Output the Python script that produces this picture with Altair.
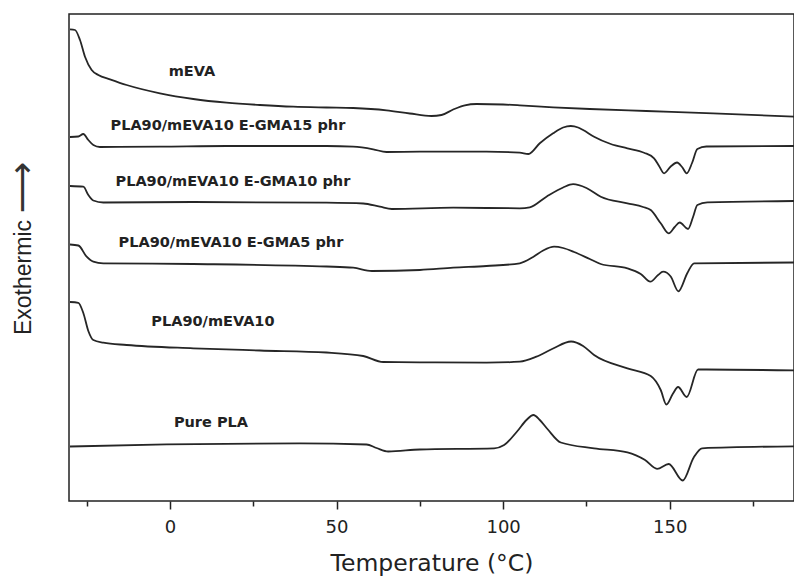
import altair as alt
import pandas as pd

# DSC heating scans; heat flow in arbitrary units, curves offset vertically
meva_T = [-30, -28.5, -27, -25.5, -23.5, -21.5, -18, -13, -3, 7, 17, 27, 37, 47, 55,
          65, 72, 78.5, 81.5, 85, 88.5, 92, 100, 105, 115, 126, 143, 163, 188]
meva_hf = [47.17, 47.10, 46.10, 44.43, 43.10, 42.60, 42.17, 41.60, 40.77, 40.20, 39.83,
           39.60, 39.43, 39.35, 39.30, 39.07, 38.75, 38.50, 38.60, 39.15, 39.57, 39.70,
           39.65, 39.57, 39.37, 39.20, 39.00, 38.77, 38.43]

gma15_T = [-30, -27.5, -26, -24.5, -23, -21, -3, 17, 47, 55, 61, 65, 75, 95, 105, 107.6,
           111, 115, 118, 120.3, 122.5, 124, 127.3, 132.3, 137.3, 142.3, 145.3, 146.8,
           148.3, 150.3, 152.2, 153.7, 155.1, 156.7, 158.3, 161, 188]
gma15_hf = [36.40, 36.45, 36.70, 36.10, 35.60, 35.40, 35.43, 35.50, 35.50, 35.43, 35.17,
            34.90, 34.93, 34.93, 34.83, 34.70, 35.77, 36.77, 37.35, 37.50, 37.35, 37.10,
            36.43, 35.70, 35.27, 34.83, 34.27, 33.50, 32.77, 33.45, 33.85, 33.40, 32.77,
            33.80, 35.20, 35.45, 35.50]

gma10_T = [-30, -26, -24.5, -23, -20, 7, 47, 58, 63, 66.6, 85, 105, 108, 113, 118, 121,
           125, 129.3, 137.3, 142, 144.3, 147.3, 149.7, 151.5, 153, 155.5, 157, 158.3,
           161.3, 188]
gma10_hf = [31.50, 31.43, 30.60, 30.05, 29.85, 29.90, 29.83, 29.75, 29.43, 29.20, 29.33,
            29.27, 29.37, 30.43, 31.35, 31.68, 31.30, 30.43, 29.77, 29.40, 29.10, 27.77,
            26.77, 27.40, 27.85, 27.20, 28.40, 29.60, 29.87, 30.00]

gma5_T = [-30, -27.5, -25, -23, -20, 7, 47, 55, 60.6, 75, 85, 95, 105, 109, 112, 115.3,
          118, 121.3, 126, 129.3, 137.3, 141.3, 144.2, 146.5, 148, 150.3, 152.6, 155.3,
          157.3, 188]
gma5_hf = [25.65, 25.55, 24.43, 23.93, 23.77, 23.70, 23.45, 23.33, 23.00, 23.10, 23.33,
           23.50, 23.77, 24.40, 25.05, 25.43, 25.30, 24.90, 24.20, 23.70, 23.27, 22.70,
           21.93, 22.60, 22.93, 22.45, 20.97, 22.80, 23.77, 23.85]

blend_T = [-30, -27.5, -26, -24.5, -23, -20, -13, 7, 27, 47, 58, 64, 75, 95, 105, 110,
           115, 120.4, 124, 127.3, 137.3, 144.3, 147.3, 149, 150.9, 152.5, 155.1, 158.5,
           161, 188]
blend_hf = [19.90, 19.82, 18.80, 17.00, 16.10, 15.83, 15.60, 15.27, 15.05, 14.85, 14.50,
            13.90, 13.87, 13.83, 13.93, 14.43, 15.25, 15.95, 15.50, 14.60, 13.27, 12.50,
            11.10, 9.65, 10.70, 11.40, 10.40, 13.15, 13.15, 13.05]

pla_T = [-30, -1, 39, 59, 62, 65.5, 75, 97.3, 100.3, 104.3, 107, 109.1, 111, 113.3, 117.3,
         127.3, 137.3, 142.6, 146.2, 149.7, 153.9, 157.2, 159.7, 188]
pla_hf = [5.45, 5.67, 5.77, 5.65, 5.30, 4.95, 5.15, 5.27, 5.60, 7.00, 8.10, 8.60, 8.10,
          7.20, 5.85, 5.27, 4.87, 4.10, 3.22, 3.70, 2.05, 4.35, 5.27, 5.47]

samples = ["mEVA", "PLA90/mEVA10 E-GMA15 phr", "PLA90/mEVA10 E-GMA10 phr",
           "PLA90/mEVA10 E-GMA5 phr", "PLA90/mEVA10", "Pure PLA"]
series_T = [meva_T, gma15_T, gma10_T, gma5_T, blend_T, pla_T]
series_hf = [meva_hf, gma15_hf, gma10_hf, gma5_hf, blend_hf, pla_hf]

# label anchor for each curve (temperature, heat flow)
label_T = [6.6, 17.4, 18.9, 18.3, 12.9, 12.3]
label_hf = [42.9, 37.5, 31.93, 25.77, 17.93, 7.77]

# direction arrow beside the y title (exothermic is up)
arrow_T = [-44.1]
arrow_hf = [31.35]

tick_values = [-25, 0, 25, 50, 75, 100, 125, 150, 175]

rows = []
for name, ts, hs in zip(samples, series_T, series_hf):
    for t, h in zip(ts, hs):
        rows.append({"sample": name, "T": t, "hf": h})
curves = pd.DataFrame(rows)
labels = pd.DataFrame({"sample": samples, "T": label_T, "hf": label_hf})
arrow = pd.DataFrame({"T": arrow_T, "hf": arrow_hf, "glyph": ["\u27f6"]})

x_scale = alt.Scale(domain=[-30.3, 187.3], nice=False, zero=False)
y_scale = alt.Scale(domain=[0, 48.7], nice=False, zero=False)

x_axis = alt.Axis(
    values=tick_values,
    labelExpr="datum.value % 50 === 0 ? datum.label : ''",
    tickSize={"condition": {"test": "datum.value % 50 === 0", "value": 8}, "value": 5},
    tickColor="#222", tickWidth=1.5, domain=False, grid=False,
    labelFont="DejaVu Sans", labelFontSize=18, labelColor="#222", labelPadding=9,
    title="Temperature (°C)", titleFont="DejaVu Sans", titleFontSize=23.5,
    titleFontWeight="normal", titleColor="#222", titlePadding=15,
)
y_axis = alt.Axis(
    labels=False, ticks=False, domain=False, grid=False,
    title="Exothermic", titleFont="Liberation Sans", titleFontSize=23,
    titleFontWeight="normal", titleColor="#222", titleX=-34, titleY=263,
    titleAngle=270, titleBaseline="bottom", titleAlign="center",
)

lines = alt.Chart(curves).mark_line(
    interpolate="monotone", clip=True, color="#262626", strokeWidth=1.8
).encode(
    x=alt.X("T:Q", scale=x_scale, axis=x_axis),
    y=alt.Y("hf:Q", scale=y_scale, axis=y_axis),
    detail="sample:N",
)

texts = alt.Chart(labels).mark_text(
    font="DejaVu Sans", fontWeight="bold", fontSize=14.5, color="#222",
    align="center", baseline="middle",
).encode(
    x=alt.X("T:Q", scale=x_scale),
    y=alt.Y("hf:Q", scale=y_scale),
    text="sample:N",
)

arrow_mark = alt.Chart(arrow).mark_text(
    font="DejaVu Sans", fontSize=36, color="#333", angle=270,
    align="center", baseline="middle",
).encode(
    x=alt.X("T:Q", scale=x_scale),
    y=alt.Y("hf:Q", scale=y_scale),
    text="glyph:N",
)

chart = (
    alt.layer(lines, texts, arrow_mark)
    .properties(
        width=725, height=487,
        autosize=alt.AutoSizeParams(type="none"),
        padding={"left": 69, "top": 14, "right": 0, "bottom": 77},
        background="white",
    )
    .configure_view(stroke="#222", strokeWidth=1.5)
)

chart.save("out.html", embed_options={"renderer": "svg", "actions": False})
